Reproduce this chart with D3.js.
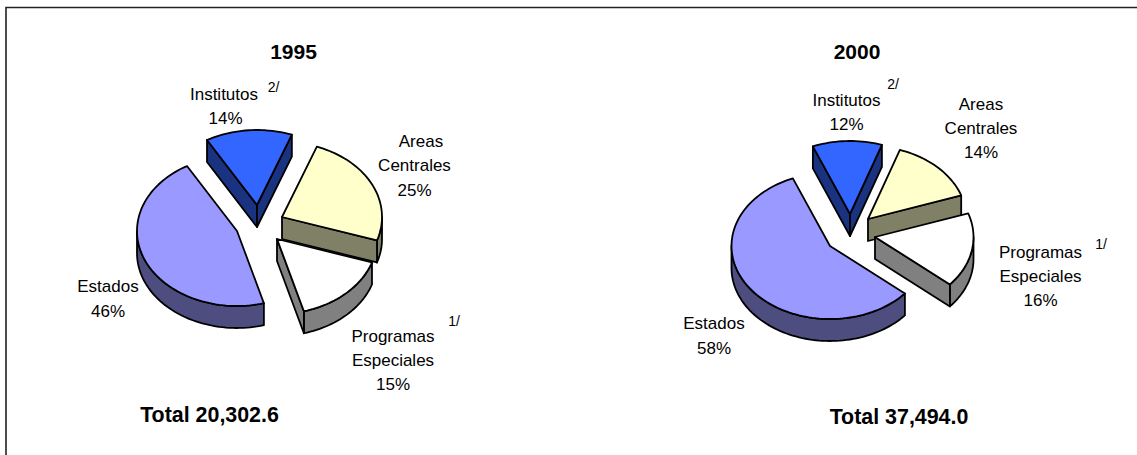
<!DOCTYPE html>
<html><head><meta charset="utf-8">
<script src="https://cdn.jsdelivr.net/npm/d3@7/dist/d3.min.js"></script>
<style>html,body{margin:0;padding:0;background:#fff}svg{display:block}text{font-family:"Liberation Sans",Arial,sans-serif;fill:#000}</style>
</head><body><svg id="c" width="1137" height="455"></svg>
<script>
// data
const categories = ["Estados","Institutos","Areas Centrales","Programas Especiales"];
const shares1995 = [46,14,24.4,15.6];
const shares2000 = [57.6,11.4,14.5,16.5];
const labels1995 = ["46%","14%","25%","15%"];
const labels2000 = ["58%","12%","14%","16%"];
const titles = ["1995","2000"];
const totals = ["Total 20,302.6","Total 37,494.0"];
const topColors = ["#9999FF","#3366FF","#FFFFCC","#FFFFFF"];
const sideColors = ["#4D4D80","#1A3380","#808066","#808080"];

const svg = d3.select("#c");
svg.append("path").attr("d","M6,455V7.5H1137").attr("fill","none").attr("stroke","#222").attr("stroke-width",1.6);

const charts = [
 {values:shares1995,labels:labels1995,title:titles[0],total:totals[0],start:164.4,rx:100,ry:75,depth:22,
  apex:[[237,231],[257,205],[282,217],[277,239]],
  titleAt:[293.5,59],totalAt:[209.5,421.5],
  names:[[[108,292,"Estados"]],[[224,100,"Institutos"]],[[421,147,"Areas"],[414.5,171,"Centrales"]],[[393,342,"Programas"],[393,366,"Especiales"]]],
  pcts:[[108,317],[225.5,124],[414.5,196],[393,390]],
  notes:[[273.5,92,"2/"],[454,326,"1/"]]},
 {values:shares2000,labels:labels2000,title:titles[1],total:totals[1],start:130.5,rx:98.5,ry:73,depth:22,
  apex:[[830,246],[850,214],[868,219],[875,237]],
  titleAt:[857,59],totalAt:[899,423.5],
  names:[[[714,329,"Estados"]],[[846.5,106,"Institutos"]],[[981,110,"Areas"],[981,134,"Centrales"]],[[1040.5,258,"Programas"],[1040.5,282,"Especiales"]]],
  pcts:[[714,354],[846.5,130],[981,158],[1040.5,306]],
  notes:[[893,89,"2/"],[1101,249,"1/"]]}
];

const rad = d => d*Math.PI/180;
const strokeW = 1.8;

charts.forEach(ch=>{
  const g = svg.append("g");
  const arcs = d3.pie().sort(null).value(d=>d)
    .startAngle(rad(ch.start)).endAngle(rad(ch.start+360))(ch.values);
  const pt = (ap,a,dz=0)=>[ap[0]+ch.rx*Math.sin(a), ap[1]-ch.ry*Math.cos(a)+dz];
  const samples = (ap,a0,a1,dz=0)=>{
    const n = Math.max(2,Math.ceil(Math.abs(a1-a0)/rad(2)));
    return d3.range(n+1).map(i=>pt(ap,a0+(a1-a0)*i/n,dz));
  };
  const line = d3.line();
  [1,2,3,0].forEach(i=>{
    const s = arcs[i], ap = ch.apex[i];
    const base=[ap[0],ap[1]+ch.depth];
    const poly=(pts)=>g.append("path").attr("d",line(pts)+"Z").attr("fill",sideColors[i])
       .attr("stroke","#000").attr("stroke-width",strokeW).attr("stroke-linejoin","round");
    for(let k=0;k<2;k++){
      const lo=rad(90+360*k), hi=rad(270+360*k);
      const a0=Math.max(s.startAngle,lo), a1=Math.min(s.endAngle,hi);
      if(a1>a0) poly(samples(ap,a0,a1).concat(samples(ap,a1,a0,ch.depth)));
    }
    if(Math.sin(s.startAngle)<0) poly([ap,pt(ap,s.startAngle),pt(ap,s.startAngle,ch.depth),base]);
    if(Math.sin(s.endAngle)>0) poly([ap,pt(ap,s.endAngle),pt(ap,s.endAngle,ch.depth),base]);
    g.append("path").attr("d",line([ap].concat(samples(ap,s.startAngle,s.endAngle)))+"Z")
      .attr("fill",topColors[i]).attr("stroke","#000").attr("stroke-width",strokeW).attr("stroke-linejoin","round");
  });
  const label=(x,y,t,size,weight)=>g.append("text").attr("x",x).attr("y",y).attr("text-anchor","middle")
    .attr("font-size",size).attr("font-weight",weight||"normal").text(t);
  ch.names.forEach(lines=>lines.forEach(l=>label(l[0],l[1],l[2],17)));
  ch.pcts.forEach((p,i)=>label(p[0],p[1],ch.labels[i],17));
  ch.notes.forEach(n=>label(n[0],n[1],n[2],14));
  label(ch.titleAt[0],ch.titleAt[1],ch.title,21,"bold");
  label(ch.totalAt[0],ch.totalAt[1],ch.total,21.4,"bold");
});
</script></body></html>
